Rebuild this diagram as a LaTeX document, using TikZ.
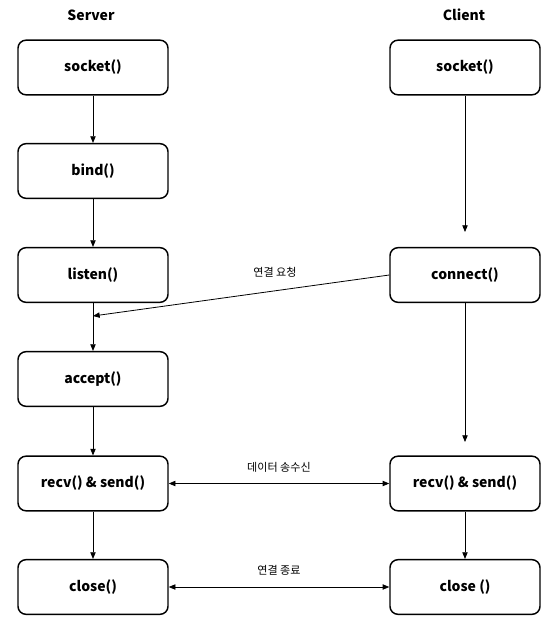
\documentclass[tikz,border=0pt]{standalone}
\usepackage{fontspec}
\setmainfont{Noto Sans CJK KR}
\usetikzlibrary{arrows.meta}

\tikzset{
    func/.style={draw, line width=1.1pt, rounded corners=6pt, minimum width=112.5pt,
        minimum height=41pt, font=\fontsize{10.5}{12}\selectfont\bfseries},
    flow/.style={-{Triangle[length=5pt,width=4pt]}, line width=0.6pt},
    both/.style={{Triangle[length=5pt,width=4pt]}-{Triangle[length=5pt,width=4pt]}, line width=0.6pt},
    msg/.style={font=\fontsize{8.3}{10}\selectfont}
}

\begin{document}
\begin{tikzpicture}[x=0.75pt, y=-0.75pt]
    \useasboundingbox (0,0) rectangle (554,628);
    % headings
    \node[font=\fontsize{10.5}{12}\selectfont\bfseries] (server) at (91,15) {Server};
    \node[font=\fontsize{10.5}{12}\selectfont\bfseries] (client) at (464,15) {Client};
    % server side
    \node[func] (ssocket) at (93,67.5) {socket()};
    \node[func] (sbind) at (93,171) {bind()};
    \node[func] (slisten) at (93,275) {listen()};
    \node[func] (saccept) at (93,379) {accept()};
    \node[func] (srecv) at (93,483.5) {recv() \& send()};
    \node[func] (sclose) at (93,587) {close()};
    % client side
    \node[func] (csocket) at (465,67.5) {socket()};
    \node[func] (cconnect) at (465,275) {connect()};
    \node[func] (crecv) at (465,483.5) {recv() \& send()};
    \node[func] (cclose) at (465,587) {close ()};
    \coordinate (req) at (93,316);
    \coordinate (cup) at (465,232);
    \coordinate (cdown) at (465,442);
    % connectors
    \draw[flow] (ssocket) -- (sbind);
    \draw[flow] (sbind) -- (slisten);
    \draw[flow] (slisten) -- (saccept);
    \draw[flow] (saccept) -- (srecv);
    \draw[flow] (srecv) -- (sclose);
    \draw[flow] (csocket) -- (cup);
    \draw[flow] (cconnect) -- (cdown);
    \draw[flow] (crecv) -- (cclose);
    \draw[flow] (cconnect.west) -- (req);
    \draw[both] (srecv) -- (crecv) node[midway, above=5pt, msg] {데이터 송수신};
    \draw[both] (sclose) -- (cclose) node[midway, above=5pt, msg] {연결 종료};
    \node[msg] (reqlabel) at (275,272) {연결 요청};
\end{tikzpicture}
\end{document}
